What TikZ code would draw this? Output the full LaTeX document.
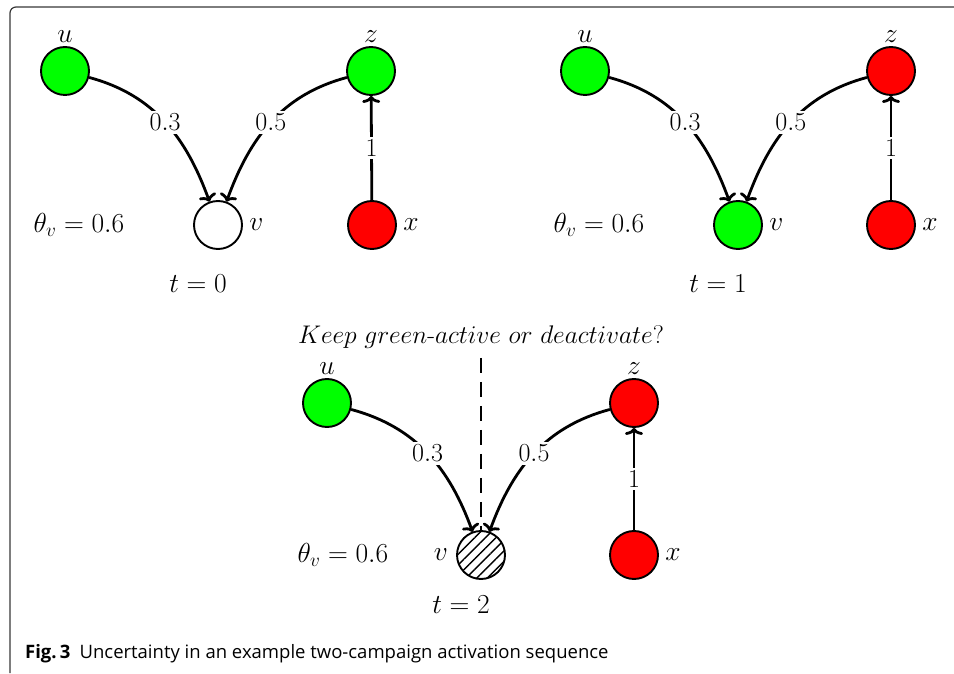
\RequirePackage{fix-cm}
\documentclass[tikz,border=0pt]{standalone}
\usepackage{fontspec}
\newfontfamily\capfont{Open Sans}
\usetikzlibrary{arrows.meta,patterns.meta}
\definecolor{actgreen}{RGB}{0,255,0}
\definecolor{actred}{RGB}{255,0,0}
\definecolor{framegray}{RGB}{55,55,55}
\begin{document}
\begin{tikzpicture}[x=1pt,y=1pt,
  font=\fontsize{27.5}{32}\selectfont,
  agent/.style={circle,draw,line width=1.9pt,minimum size=48pt,inner sep=0pt},
  gnode/.style={agent,fill=actgreen},
  rnode/.style={agent,fill=actred},
  wnode/.style={agent,fill=white},
  hnode/.style={agent,pattern={Lines[angle=45,distance=7.5pt,line width=1.4pt]}},
  nametop/.style={label={[label distance=0pt]above:$#1$}},
  nameright/.style={label={[label distance=3pt]right:$#1$}},
  nameleft/.style={label={[label distance=5pt]left:$#1$}},
  infl/.style={line width=2.8pt,-{To[length=7pt,width=18pt]}},
  wlabel/.style={fill=white,inner sep=3pt,font=\fontsize{26}{30}\selectfont},
  query/.style={line width=2.8pt,dash pattern=on 15pt off 9pt},
]
\useasboundingbox (0,0) rectangle (954,673);
% frame of the figure
\draw[framegray,line width=1.2pt,rounded corners=6pt] (10,0) -- (10,666) -- (954,666);

% ---- t = 0 ----
\node[gnode,nametop=u] (u0) at (65,602) {};
\node[gnode,nametop=z] (z0) at (371,602) {};
\node[wnode,nameright=v] (v0) at (218,448) {};
\node[rnode,nameright=x] (x0) at (372,448) {};
\node (th0) at (79,448) {$\theta_v = 0.6$};
\node (t0) at (198,389) {$t = 0$};
\draw[infl] (u0) to[out=-15,in=110] node[wlabel] {$0.3$} (v0);
\draw[infl] (z0) to[out=195,in=70] node[wlabel] {$0.5$} (v0);
\draw[infl] (x0) -- node[wlabel] {$1$} (z0);

% ---- t = 1 ----
\node[gnode,nametop=u] (u1) at (585,602) {};
\node[rnode,nametop=z] (z1) at (891,602) {};
\node[gnode,nameright=v] (v1) at (738,448) {};
\node[rnode,nameright=x] (x1) at (891,448) {};
\node (th1) at (599,448) {$\theta_v = 0.6$};
\node (t1) at (718,389) {$t = 1$};
\draw[infl] (u1) to[out=-15,in=110] node[wlabel] {$0.3$} (v1);
\draw[infl] (z1) to[out=195,in=70] node[wlabel] {$0.5$} (v1);
\draw[infl] (x1) -- node[wlabel] {$1$} (z1);

% ---- t = 2 ----
\node[gnode,nametop=u] (u2) at (327,270) {};
\node[rnode,nametop=z] (z2) at (634,270) {};
\node[hnode,nameleft=v] (v2) at (481,118) {};
\node[rnode,nameright=x] (x2) at (634,118) {};
\node (th2) at (343,118) {$\theta_v = 0.6$};
\node (t2) at (461,68) {$t = 2$};
\node[font=\fontsize{25.5}{30}\selectfont] (q) at (481,336)
  {$Keep\ green\mbox{-}active\ or\ deactivate?$};
\draw[query] ([yshift=-6pt]q.south) -- (v2.north);
\draw[infl] (u2) to[out=-15,in=110] node[wlabel] {$0.3$} (v2);
\draw[infl] (z2) to[out=195,in=70] node[wlabel] {$0.5$} (v2);
\draw[infl] (x2) -- node[wlabel] {$1$} (z2);

% caption
\node[anchor=base west,inner sep=0pt,font=\capfont\fontsize{18.5}{22}\selectfont] (cap) at (25,15)
  {\textbf{Fig.\,3}\hspace{0.5em}Uncertainty in an example two-campaign activation sequence};
\end{tikzpicture}
\end{document}
